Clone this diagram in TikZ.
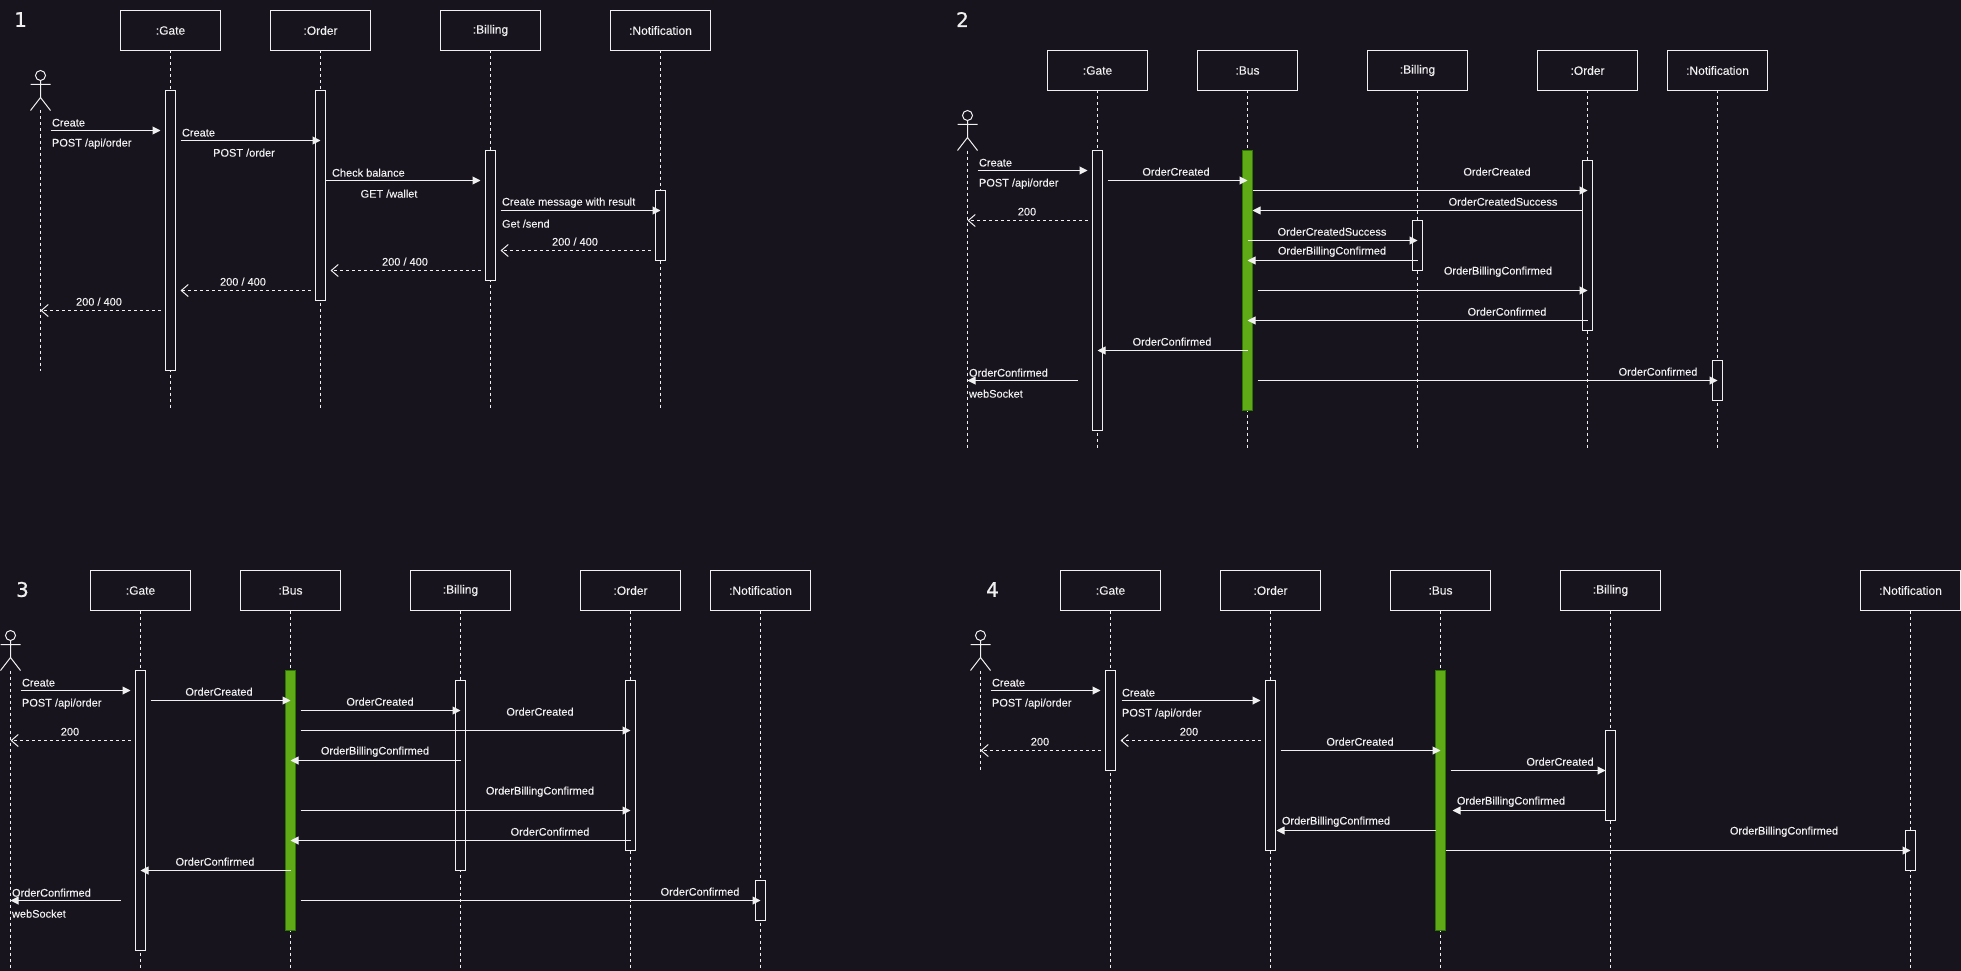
\documentclass[tikz,border=0pt]{standalone}
\usepackage{fontspec}
\setmainfont[FakeBold=0.12]{Liberation Sans}
\newfontfamily\titlefont[FakeBold=0.8]{DejaVu Sans}
\usetikzlibrary{arrows.meta}
\definecolor{bgc}{HTML}{18141D}
\definecolor{fg}{HTML}{F0F0F0}
\definecolor{busfill}{HTML}{60A917}
\definecolor{busline}{HTML}{2D7600}
\tikzset{
  x=1pt,y=-1pt,
  every node/.style={inner sep=0pt,outer sep=0pt,text=fg},
  headbox/.style={draw=fg,line width=1pt,fill=bgc,minimum width=100pt,minimum height=40pt,font=\fontsize{12}{14}\selectfont},
  lifeline/.style={draw=fg,line width=1pt,dash pattern=on 3pt off 3pt},
  actbar/.style={draw=fg,line width=1pt,fill=bgc,minimum width=10pt},
  busbar/.style={draw=busline,line width=1pt,fill=busfill,minimum width=10pt},
  actorline/.style={draw=fg,line width=1pt},
  msgcall/.style={draw=fg,line width=1pt,-{Triangle[length=8pt,width=8pt,fill=fg]}},
  msgret/.style={draw=fg,line width=1pt,dash pattern=on 3pt off 3pt,-{Straight Barb[length=7pt,width=12pt,line width=1pt]}},
  msgtext/.style={font=\fontsize{11}{13}\selectfont,yshift=-0.2pt,xshift=-0.5pt},
  paneltitle/.style={font=\titlefont\fontsize{20}{24}\selectfont,yshift=1pt},
}
% head box + dashed lifeline
\newcommand{\headline}[5]{% id, cx, top, bottom, text
  \node[headbox] (#1) at (#2,#3+20) {#5};
  \coordinate (#1-end) at (#2,#4);
  \draw[lifeline] (#1.south) -- (#1-end);
}
% activation bar: id, cx, y1, y2, style
\newcommand{\activation}[5][actbar]{%
  \node[#1,minimum height=#5pt-#4pt] (#2) at (#3,{(#4+#5)/2}) {};
}
% stick figure: id, cx, top, lifeline bottom
\newcommand{\actorfig}[4]{%
  \node[draw=fg,line width=1pt,circle,minimum size=10pt] (#1) at (#2,#3+5) {};
  \coordinate (#1-hip) at (#2,#3+27);
  \coordinate (#1-la) at (#2-10,#3+14);
  \coordinate (#1-ra) at (#2+10,#3+14);
  \coordinate (#1-lf) at (#2-10,#3+40);
  \coordinate (#1-rf) at (#2+10,#3+40);
  \coordinate (#1-end) at (#2,#4);
  \coordinate (#1-foot) at (#2,#3+40);
  \draw[actorline] (#1.south) -- (#1-hip) (#1-la) -- (#1-ra) (#1-lf) -- (#1-hip) -- (#1-rf);
  \draw[lifeline] (#1-foot) -- (#1-end);
}
% message: style, id, x1, x2, y
\newcommand{\msg}[5]{%
  \coordinate (#2s) at (#3,#5);
  \coordinate (#2e) at (#4,#5);
  \draw[#1] (#2s) -- (#2e);
}
% labels: id, x, y, text
\newcommand{\ltxt}[4]{\node[msgtext,anchor=west] (#1) at (#2,#3) {#4};}
\newcommand{\ctxt}[4]{\node[msgtext] (#1) at (#2,#3) {#4};}
\begin{document}
\begin{tikzpicture}
\fill[bgc] (0,0) rectangle (1961,971);
\useasboundingbox (0,0) rectangle (1961,971);
\begin{scope}[shift={(0.5,0.5)}]
%% ---------- Panel 1
\node[paneltitle] (ta) at (20,20) {1};
\actorfig{aa}{40}{70}{370}
\headline{ag}{170}{10}{407}{:Gate}
\headline{ao}{320}{10}{407}{:Order}
\headline{ab}{490}{10}{407}{:Billing}
\headline{an}{660}{10}{407}{:Notification}
\activation{agb}{170}{90}{370}
\activation{aob}{320}{90}{300}
\activation{abb}{490}{150}{280}
\activation{anb}{660}{190}{260}
\msg{msgcall}{am1}{50}{160}{130}
\msg{msgcall}{am2}{180}{320}{140}
\msg{msgcall}{am3}{325}{480}{180}
\msg{msgcall}{am4}{500}{660}{210}
\msg{msgret}{am5}{650}{500}{250}
\msg{msgret}{am6}{480}{330}{270}
\msg{msgret}{am7}{310}{180}{290}
\msg{msgret}{am8}{160}{40}{310}
\ltxt{al1}{52}{122}{Create}
\ltxt{al2}{52}{143}{POST /api/order}
\ltxt{al3}{182}{132}{Create}
\ctxt{al4}{244}{152}{POST /order}
\ltxt{al5}{332}{172}{Check balance}
\ctxt{al6}{389}{193}{GET /wallet}
\ltxt{al7}{502}{202}{Create message with result}
\ltxt{al8}{502}{223}{Get /send}
\ctxt{al9}{575}{241}{200 / 400}
\ctxt{al10}{405}{261}{200 / 400}
\ctxt{al11}{243}{281}{200 / 400}
\ctxt{al12}{99}{301}{200 / 400}
%% ---------- Panel 2
\node[paneltitle] (tb) at (962,20) {2};
\actorfig{ba}{967}{110}{447}
\headline{bg}{1097}{50}{447}{:Gate}
\headline{bu}{1247}{50}{447}{:Bus}
\headline{bb}{1417}{50}{447}{:Billing}
\headline{bo}{1587}{50}{447}{:Order}
\headline{bn}{1717}{50}{447}{:Notification}
\activation{bgb}{1097}{150}{430}
\activation[busbar]{bub}{1247}{150}{410}
\activation{bbb}{1417}{220}{270}
\activation{bob}{1587}{160}{330}
\activation{bnb}{1717}{360}{400}
\msg{msgcall}{bm1}{977}{1087}{170}
\msg{msgcall}{bm2}{1107}{1247}{180}
\msg{msgcall}{bm3}{1252}{1587}{190}
\msg{msgcall}{bm4}{1581}{1252}{210}
\msg{msgret}{bm5}{1087}{967}{220}
\msg{msgcall}{bm6}{1247}{1417}{240}
\msg{msgcall}{bm7}{1417}{1247}{260}
\msg{msgcall}{bm8}{1257}{1587}{290}
\msg{msgcall}{bm9}{1587}{1247}{320}
\msg{msgcall}{bm10}{1247}{1097}{350}
\msg{msgcall}{bm11}{1077}{967}{380}
\msg{msgcall}{bm12}{1257}{1717}{380}
\ltxt{bl1}{979}{162}{Create}
\ltxt{bl2}{979}{183}{POST /api/order}
\ctxt{bl3}{1176}{171}{OrderCreated}
\ctxt{bl4}{1497}{171}{OrderCreated}
\ctxt{bl5}{1503}{201}{OrderCreatedSuccess}
\ctxt{bl6}{1027}{211}{200}
\ctxt{bl7}{1332}{231}{OrderCreatedSuccess}
\ctxt{bl8}{1332}{251}{OrderBillingConfirmed}
\ctxt{bl9}{1498}{271}{OrderBillingConfirmed}
\ctxt{bl10}{1507}{311}{OrderConfirmed}
\ctxt{bl11}{1172}{341}{OrderConfirmed}
\ltxt{bl12}{969}{372}{OrderConfirmed}
\ltxt{bl13}{969}{393}{webSocket}
\ctxt{bl14}{1658}{371}{OrderConfirmed}
%% ---------- Panel 3
\node[paneltitle] (tc) at (22,590) {3};
\actorfig{ca}{10}{630}{967}
\headline{cg}{140}{570}{967}{:Gate}
\headline{cu}{290}{570}{967}{:Bus}
\headline{cb}{460}{570}{967}{:Billing}
\headline{co}{630}{570}{967}{:Order}
\headline{cn}{760}{570}{967}{:Notification}
\activation{cgb}{140}{670}{950}
\activation[busbar]{cub}{290}{670}{930}
\activation{cbb}{460}{680}{870}
\activation{cob}{630}{680}{850}
\activation{cnb}{760}{880}{920}
\msg{msgcall}{cm1}{20}{130}{690}
\msg{msgcall}{cm2}{150}{290}{700}
\msg{msgcall}{cm3}{300}{460}{710}
\msg{msgcall}{cm4}{300}{630}{730}
\msg{msgret}{cm5}{130}{10}{740}
\msg{msgcall}{cm6}{460}{290}{760}
\msg{msgcall}{cm7}{300}{630}{810}
\msg{msgcall}{cm8}{630}{290}{840}
\msg{msgcall}{cm9}{290}{140}{870}
\msg{msgcall}{cm10}{120}{10}{900}
\msg{msgcall}{cm11}{300}{760}{900}
\ltxt{cl1}{22}{682}{Create}
\ltxt{cl2}{22}{703}{POST /api/order}
\ctxt{cl3}{219}{691}{OrderCreated}
\ctxt{cl4}{380}{701}{OrderCreated}
\ctxt{cl5}{540}{711}{OrderCreated}
\ctxt{cl6}{70}{731}{200}
\ctxt{cl7}{375}{751}{OrderBillingConfirmed}
\ctxt{cl8}{540}{791}{OrderBillingConfirmed}
\ctxt{cl9}{550}{831}{OrderConfirmed}
\ctxt{cl10}{215}{861}{OrderConfirmed}
\ltxt{cl11}{12}{892}{OrderConfirmed}
\ltxt{cl12}{12}{913}{webSocket}
\ctxt{cl13}{700}{891}{OrderConfirmed}
%% ---------- Panel 4
\node[paneltitle] (td) at (992,590) {4};
\actorfig{da}{980}{630}{770}
\headline{dg}{1110}{570}{967}{:Gate}
\headline{do}{1270}{570}{967}{:Order}
\headline{du}{1440}{570}{967}{:Bus}
\headline{db}{1610}{570}{967}{:Billing}
\headline{dn}{1910}{570}{967}{:Notification}
\activation{dgb}{1110}{670}{770}
\activation{dob}{1270}{680}{850}
\activation[busbar]{dub}{1440}{670}{930}
\activation{dbb}{1610}{730}{820}
\activation{dnb}{1910}{830}{870}
\msg{msgcall}{dm1}{990}{1100}{690}
\msg{msgcall}{dm2}{1121}{1260}{700}
\msg{msgret}{dm3}{1260}{1120}{740}
\msg{msgret}{dm4}{1100}{980}{750}
\msg{msgcall}{dm5}{1280}{1440}{750}
\msg{msgcall}{dm6}{1450}{1605}{770}
\msg{msgcall}{dm7}{1605}{1452}{810}
\msg{msgcall}{dm8}{1435}{1276}{830}
\msg{msgcall}{dm9}{1445}{1910}{850}
\ltxt{dl1}{992}{682}{Create}
\ltxt{dl2}{992}{703}{POST /api/order}
\ltxt{dl3}{1122}{692}{Create}
\ltxt{dl4}{1122}{713}{POST /api/order}
\ctxt{dl5}{1189}{731}{200}
\ctxt{dl6}{1040}{741}{200}
\ctxt{dl7}{1360}{741}{OrderCreated}
\ctxt{dl8}{1560}{761}{OrderCreated}
\ctxt{dl9}{1511}{801}{OrderBillingConfirmed}
\ctxt{dl10}{1336}{821}{OrderBillingConfirmed}
\ctxt{dl11}{1784}{831}{OrderBillingConfirmed}
\end{scope}
\end{tikzpicture}
\end{document}
